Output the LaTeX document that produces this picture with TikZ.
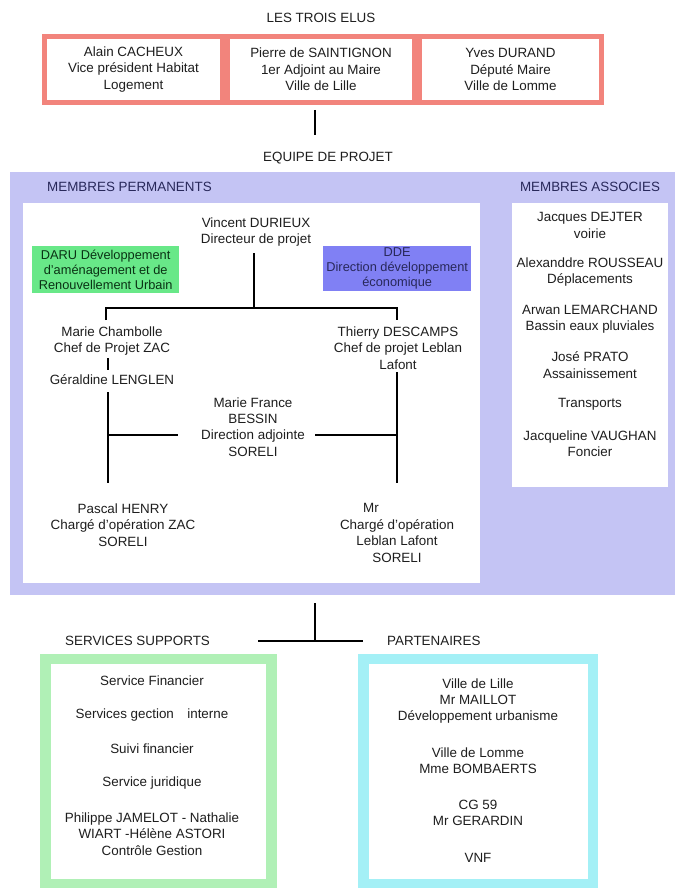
\documentclass[tikz,border=0pt]{standalone}
\usepackage{fontspec}
\setmainfont{Liberation Sans}
\definecolor{pinkc}{RGB}{242,132,124}
\definecolor{lavc}{RGB}{196,196,244}
\definecolor{darug}{RGB}{104,232,136}
\definecolor{ddeb}{RGB}{128,128,244}
\definecolor{grfr}{RGB}{176,240,182}
\definecolor{cyfr}{RGB}{164,240,246}
\definecolor{txtc}{RGB}{30,30,30}
\definecolor{navy}{RGB}{40,40,90}
\definecolor{dkgreen}{RGB}{10,50,20}
\begin{document}
\begin{tikzpicture}[x=1pt,y=-1pt,
  font=\fontsize{13.4}{16.4}\selectfont,
  t/.style={align=center, inner sep=0pt, text=txtc},
  small/.style={font=\fontsize{12.8}{15}\selectfont},
  wire/.style={line width=2.6pt, black, line cap=butt},
  wbox/.style={fill=white, inner sep=0pt, align=center, text=txtc}]
\useasboundingbox (0,0) rectangle (675,888);
\fill[white] (0,0) rectangle (675,888);

% ---------- LES TROIS ELUS ----------
\node[t] (elus) at (321,18) {LES TROIS ELUS};
\node[fill=pinkc, inner sep=0pt, minimum width=562, minimum height=71, anchor=north west] (elusframe) at (42,34) {};
\node[wbox, minimum width=173, minimum height=61] (b1) at (133.5,69.5) {Alain CACHEUX\\Vice président Habitat\\Logement};
\node[wbox, minimum width=182, minimum height=61] (b2) at (321,69.5) {Pierre de SAINTIGNON\\1er Adjoint au Maire\\Ville de Lille};
\node[wbox, minimum width=177, minimum height=61] (b3) at (510.5,69.5) {Yves DURAND\\Député Maire\\Ville de Lomme};
\coordinate (e1) at (315,110);
\coordinate (e2) at (315,135);
\draw[wire] (e1) -- (e2);

% ---------- EQUIPE DE PROJET ----------
\node[t] (equipe) at (328,158) {EQUIPE DE PROJET};
\node[fill=lavc, inner sep=0pt, minimum width=665, minimum height=423, anchor=north west] (lav) at (10,172) {};
\node[t, text=navy, anchor=west] (mperm) at (47,187) {MEMBRES PERMANENTS};
\node[t, text=navy] (massoc) at (590,187) {MEMBRES ASSOCIES};
\node[fill=white, inner sep=0pt, minimum width=457, minimum height=380, anchor=north west] (perm) at (23,203) {};
\node[fill=white, inner sep=0pt, minimum width=156, minimum height=284, anchor=north west] (assoc) at (512,203) {};

% associates
\node[t] (a1) at (590,225.5) {Jacques DEJTER\\voirie};
\node[t] (a2) at (590,272) {Alexanddre ROUSSEAU\\Déplacements};
\node[t] (a3) at (590,319.5) {Arwan LEMARCHAND\\Bassin eaux pluviales};
\node[t] (a4) at (590,365) {José PRATO\\Assainissement};
\node[t] (a5) at (590,404) {Transports};
\node[t] (a6) at (590,444) {Jacqueline VAUGHAN\\Foncier};

% permanent members
\node[fill=darug, inner sep=0pt, minimum width=147, minimum height=47, anchor=north west, align=center, text=dkgreen, small] (daru) at (32,246) {DARU Développement\\d'aménagement et de\\Renouvellement Urbain};
\node[fill=ddeb, inner sep=0pt, minimum width=148, minimum height=45, anchor=north west, align=center, text=navy, small] (dde) at (323,246) {DDE\\Direction développement\\économique};
\node[t] (vincent) at (256,232) {Vincent DURIEUX\\Directeur de projet};
\node[t] (marie) at (112,341) {Marie Chambolle\\Chef de Projet ZAC};
\node[t] (geraldine) at (112,380) {Géraldine LENGLEN};
\node[t] (thierry) at (398,348) {Thierry DESCAMPS\\Chef de projet Leblan\\Lafont};
\node[t] (bessin) at (253,427) {Marie France\\BESSIN\\Direction adjointe\\SORELI};
\node[t] (pascal) at (123,525) {Pascal HENRY\\Chargé d'opération ZAC\\SORELI};
\node[t] (mr) at (397,533) {Mr\hspace*{52pt}\\Chargé d'opération\\Leblan Lafont\\SORELI};

\coordinate (v1) at (254,253);
\coordinate (v2) at (254,308);
\coordinate (hl) at (106,308);
\coordinate (hr) at (397,308);
\coordinate (hl2) at (106,320);
\coordinate (hr2) at (397,320);
\draw[wire] (v1) -- (v2);
\draw[wire, line join=miter] (hl2) -- (hl) -- (hr) -- (hr2);

\coordinate (m1) at (108,358);
\coordinate (m2) at (108,370);
\draw[wire] (m1) -- (m2);
\coordinate (l1) at (108,392);
\coordinate (l2) at (108,483);
\coordinate (lm) at (108,435);
\coordinate (lb) at (178,435);
\draw[wire] (l1) -- (l2);
\draw[wire] (lm) -- (lb);
\coordinate (r1) at (397,372);
\coordinate (r2) at (397,483);
\coordinate (rm) at (397,435);
\coordinate (rb) at (315,435);
\draw[wire] (r1) -- (r2);
\draw[wire] (rb) -- (rm);

% ---------- bottom ----------
\coordinate (s1) at (315,603);
\coordinate (s2) at (315,641);
\coordinate (sl) at (258,641);
\coordinate (sr) at (363,641);
\draw[wire] (s1) -- (s2);
\draw[wire] (sl) -- (sr);

\node[t, anchor=west] (serv) at (65,641) {SERVICES SUPPORTS};
\node[t, anchor=west] (part) at (387,641) {PARTENAIRES};

\node[fill=grfr, inner sep=0pt, minimum width=237, minimum height=234, anchor=north west] (grbox) at (40,654) {};
\node[fill=white, inner sep=0pt, minimum width=215, minimum height=215, anchor=north west] (grin) at (51,664) {};
\node[fill=cyfr, inner sep=0pt, minimum width=240, minimum height=234, anchor=north west] (cybox) at (358,654) {};
\node[fill=white, inner sep=0pt, minimum width=219, minimum height=215, anchor=north west] (cyin) at (369,664) {};

\node[t] (g1) at (152,681) {Service Financier};
\node[t] (g2) at (152,715) {Services gection\hspace{1em}interne};
\node[t] (g3) at (152,749) {Suivi financier};
\node[t] (g4) at (152,783) {Service juridique};
\node[t] (g5) at (152,834) {Philippe JAMELOT - Nathalie\\WIART -Hélène ASTORI\\Contrôle Gestion};

\node[t] (p1) at (478,701) {Ville de Lille\\Mr MAILLOT\\Développement urbanisme};
\node[t] (p2) at (478,761) {Ville de Lomme\\Mme BOMBAERTS};
\node[t] (p3) at (478,813) {CG 59\\Mr GERARDIN};
\node[t] (p4) at (478,858) {VNF};
\end{tikzpicture}
\end{document}
